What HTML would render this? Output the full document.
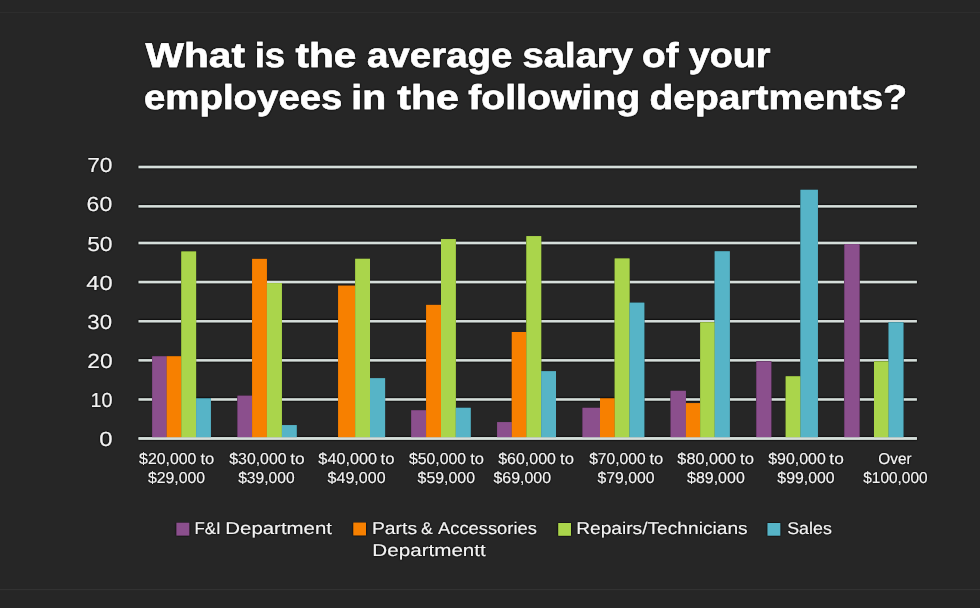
<!DOCTYPE html>
<html lang="en"><head><meta charset="utf-8"><title>Average salary by department</title>
<style>
html,body{margin:0;padding:0;background:#262626;}
body{width:980px;height:608px;overflow:hidden;}
svg{display:block;will-change:transform;}
text{text-rendering:geometricPrecision;font-family:"Liberation Sans",sans-serif;fill:#f2f2f2;}
.t{font-weight:bold;font-size:34.5px;fill:#ffffff;stroke:#ffffff;stroke-width:0.5px;}
.y{font-size:20.4px;}
.x{font-size:15.8px;}
.l{font-size:17px;}
</style></head><body>
<svg width="980" height="608" viewBox="0 0 980 608">
<defs><filter id="sh" x="-20%" y="-5%" width="140%" height="110%"><feGaussianBlur in="SourceAlpha" stdDeviation="0.75 0.01" result="b"/><feComponentTransfer in="b" result="d"><feFuncA type="linear" slope="1.7"/></feComponentTransfer><feMerge><feMergeNode in="d"/><feMergeNode in="SourceGraphic"/></feMerge></filter>
<filter id="th" x="-5%" y="-5%" width="110%" height="110%"><feGaussianBlur in="SourceAlpha" stdDeviation="0.8" result="b"/><feComponentTransfer in="b" result="d"><feFuncA type="linear" slope="1.3"/></feComponentTransfer><feMerge><feMergeNode in="d"/><feMergeNode in="SourceGraphic"/></feMerge></filter>
<filter id="gl" x="-1%" y="-200%" width="102%" height="500%"><feGaussianBlur in="SourceAlpha" stdDeviation="0.8" result="b"/><feComponentTransfer in="b" result="d"><feFuncA type="linear" slope="1.7"/></feComponentTransfer><feMerge><feMergeNode in="d"/><feMergeNode in="SourceGraphic"/></feMerge></filter></defs>
<rect x="0" y="0" width="980" height="608" fill="#262626"/>
<rect x="0" y="12" width="980" height="1" fill="#2d2d2d"/>
<rect x="0" y="589" width="980" height="1.1" fill="#323232"/>
<g filter="url(#gl)" fill="#d5deda">
<rect x="138.6" y="165.85" width="778.3" height="2.3"/>
<rect x="138.6" y="205.15" width="778.3" height="2.3"/>
<rect x="138.6" y="241.85" width="778.3" height="2.3"/>
<rect x="138.6" y="280.90" width="778.3" height="2.3"/>
<rect x="138.6" y="320.05" width="778.3" height="2.3"/>
<rect x="138.6" y="359.15" width="778.3" height="2.3"/>
<rect x="138.6" y="398.30" width="778.3" height="2.3"/>
<rect x="138.6" y="437.30" width="778.3" height="2.3"/>
</g>
<g filter="url(#sh)">
<rect x="152.2" y="356.30" width="14.5" height="81.10" fill="#8b508d"/>
<rect x="166.7" y="356.30" width="14.6" height="81.10" fill="#f78003"/>
<rect x="181.3" y="251.50" width="14.8" height="185.90" fill="#aad54b"/>
<rect x="196.1" y="398.40" width="14.8" height="39.00" fill="#57b4c7"/>
<rect x="237.5" y="395.70" width="14.6" height="41.70" fill="#8b508d"/>
<rect x="252.1" y="258.90" width="14.8" height="178.50" fill="#f78003"/>
<rect x="266.9" y="283.10" width="15.0" height="154.30" fill="#aad54b"/>
<rect x="281.9" y="425.10" width="14.8" height="12.30" fill="#57b4c7"/>
<rect x="338.1" y="285.70" width="17.1" height="151.70" fill="#f78003"/>
<rect x="355.2" y="258.80" width="14.8" height="178.60" fill="#aad54b"/>
<rect x="370.0" y="378.20" width="15.1" height="59.20" fill="#57b4c7"/>
<rect x="411.2" y="410.30" width="14.9" height="27.10" fill="#8b508d"/>
<rect x="426.1" y="304.90" width="14.9" height="132.50" fill="#f78003"/>
<rect x="441.0" y="239.10" width="14.8" height="198.30" fill="#aad54b"/>
<rect x="455.8" y="407.80" width="14.9" height="29.60" fill="#57b4c7"/>
<rect x="497.1" y="422.10" width="14.7" height="15.30" fill="#8b508d"/>
<rect x="511.8" y="332.00" width="14.6" height="105.40" fill="#f78003"/>
<rect x="526.4" y="236.10" width="14.8" height="201.30" fill="#aad54b"/>
<rect x="541.2" y="371.20" width="14.8" height="66.20" fill="#57b4c7"/>
<rect x="582.5" y="407.80" width="17.5" height="29.60" fill="#8b508d"/>
<rect x="600.0" y="398.40" width="14.7" height="39.00" fill="#f78003"/>
<rect x="614.7" y="258.50" width="14.8" height="178.90" fill="#aad54b"/>
<rect x="629.5" y="302.70" width="14.8" height="134.70" fill="#57b4c7"/>
<rect x="670.6" y="390.80" width="15.3" height="46.60" fill="#8b508d"/>
<rect x="685.9" y="403.10" width="14.3" height="34.30" fill="#f78003"/>
<rect x="700.2" y="322.30" width="14.5" height="115.10" fill="#aad54b"/>
<rect x="714.7" y="251.30" width="15.1" height="186.10" fill="#57b4c7"/>
<rect x="756.4" y="361.40" width="14.9" height="76.00" fill="#8b508d"/>
<rect x="785.7" y="376.30" width="14.8" height="61.10" fill="#aad54b"/>
<rect x="800.5" y="189.80" width="17.4" height="247.60" fill="#57b4c7"/>
<rect x="844.4" y="244.10" width="15.1" height="193.30" fill="#8b508d"/>
<rect x="874.0" y="361.40" width="14.6" height="76.00" fill="#aad54b"/>
<rect x="888.6" y="322.30" width="14.8" height="115.10" fill="#57b4c7"/>
</g>
<rect x="138.6" y="437.30" width="778.3" height="2.3" fill="#d5deda"/>
<g filter="url(#th)">
<rect x="176.5" y="522.8" width="12.7" height="12.7" fill="#8b508d"/>
<rect x="353.4" y="522.7" width="12.6" height="12.6" fill="#f78003"/>
<rect x="558.3" y="523.0" width="12.7" height="12.7" fill="#aad54b"/>
<rect x="767.6" y="523.0" width="12.6" height="12.6" fill="#57b4c7"/>
</g>
<g filter="url(#th)">
<text class="t" x="145.57" y="67.3" textLength="99.43" lengthAdjust="spacingAndGlyphs">What</text>
<text class="t" x="254.77" y="67.3" textLength="30.23" lengthAdjust="spacingAndGlyphs">is</text>
<text class="t" x="295.40" y="67.3" textLength="60.94" lengthAdjust="spacingAndGlyphs">the</text>
<text class="t" x="366.93" y="67.3" textLength="145.62" lengthAdjust="spacingAndGlyphs">average</text>
<text class="t" x="522.62" y="67.3" textLength="110.32" lengthAdjust="spacingAndGlyphs">salary</text>
<text class="t" x="642.00" y="67.3" textLength="36.55" lengthAdjust="spacingAndGlyphs">of</text>
<text class="t" x="688.69" y="67.3" textLength="81.86" lengthAdjust="spacingAndGlyphs">your</text>
<text class="t" x="144.00" y="108.6" textLength="198.46" lengthAdjust="spacingAndGlyphs">employees</text>
<text class="t" x="351.30" y="108.6" textLength="34.80" lengthAdjust="spacingAndGlyphs">in</text>
<text class="t" x="397.19" y="108.6" textLength="61.72" lengthAdjust="spacingAndGlyphs">the</text>
<text class="t" x="468.23" y="108.6" textLength="171.90" lengthAdjust="spacingAndGlyphs">following</text>
<text class="t" x="649.43" y="108.6" textLength="257.61" lengthAdjust="spacingAndGlyphs">departments?</text>
<text class="y" x="99.34" y="446.1" textLength="13.31" lengthAdjust="spacingAndGlyphs">0</text>
<text class="y" x="90.38" y="407.0" textLength="22.02" lengthAdjust="spacingAndGlyphs">10</text>
<text class="y" x="87.26" y="367.8" textLength="25.30" lengthAdjust="spacingAndGlyphs">20</text>
<text class="y" x="87.30" y="328.7" textLength="24.73" lengthAdjust="spacingAndGlyphs">30</text>
<text class="y" x="86.38" y="289.6" textLength="26.22" lengthAdjust="spacingAndGlyphs">40</text>
<text class="y" x="87.17" y="250.5" textLength="25.41" lengthAdjust="spacingAndGlyphs">50</text>
<text class="y" x="86.64" y="211.3" textLength="25.61" lengthAdjust="spacingAndGlyphs">60</text>
<text class="y" x="87.23" y="172.2" textLength="25.31" lengthAdjust="spacingAndGlyphs">70</text>
<text class="x" x="139.09" y="464.4" textLength="57.36" lengthAdjust="spacingAndGlyphs">$20,000</text>
<text class="x" x="200.42" y="464.4" textLength="13.82" lengthAdjust="spacingAndGlyphs">to</text>
<text class="x" x="229.23" y="464.4" textLength="57.39" lengthAdjust="spacingAndGlyphs">$30,000</text>
<text class="x" x="290.27" y="464.4" textLength="14.48" lengthAdjust="spacingAndGlyphs">to</text>
<text class="x" x="318.39" y="464.4" textLength="58.59" lengthAdjust="spacingAndGlyphs">$40,000</text>
<text class="x" x="380.55" y="464.4" textLength="13.87" lengthAdjust="spacingAndGlyphs">to</text>
<text class="x" x="409.00" y="464.4" textLength="57.07" lengthAdjust="spacingAndGlyphs">$50,000</text>
<text class="x" x="470.29" y="464.4" textLength="13.80" lengthAdjust="spacingAndGlyphs">to</text>
<text class="x" x="498.22" y="464.4" textLength="57.74" lengthAdjust="spacingAndGlyphs">$60,000</text>
<text class="x" x="560.14" y="464.4" textLength="13.89" lengthAdjust="spacingAndGlyphs">to</text>
<text class="x" x="589.18" y="464.4" textLength="56.52" lengthAdjust="spacingAndGlyphs">$70,000</text>
<text class="x" x="649.42" y="464.4" textLength="13.82" lengthAdjust="spacingAndGlyphs">to</text>
<text class="x" x="677.38" y="464.4" textLength="58.64" lengthAdjust="spacingAndGlyphs">$80,000</text>
<text class="x" x="740.14" y="464.4" textLength="13.89" lengthAdjust="spacingAndGlyphs">to</text>
<text class="x" x="768.17" y="464.4" textLength="57.63" lengthAdjust="spacingAndGlyphs">$90,000</text>
<text class="x" x="829.39" y="464.4" textLength="14.47" lengthAdjust="spacingAndGlyphs">to</text>
<text class="x" x="878.32" y="464.4" textLength="33.26" lengthAdjust="spacingAndGlyphs">Over</text>
<text class="x" x="147.96" y="483.1" textLength="57.16" lengthAdjust="spacingAndGlyphs">$29,000</text>
<text class="x" x="238.18" y="483.1" textLength="56.52" lengthAdjust="spacingAndGlyphs">$39,000</text>
<text class="x" x="327.61" y="483.1" textLength="57.99" lengthAdjust="spacingAndGlyphs">$49,000</text>
<text class="x" x="417.61" y="483.1" textLength="57.37" lengthAdjust="spacingAndGlyphs">$59,000</text>
<text class="x" x="493.45" y="483.1" textLength="57.57" lengthAdjust="spacingAndGlyphs">$69,000</text>
<text class="x" x="597.43" y="483.1" textLength="57.05" lengthAdjust="spacingAndGlyphs">$79,000</text>
<text class="x" x="687.00" y="483.1" textLength="57.80" lengthAdjust="spacingAndGlyphs">$89,000</text>
<text class="x" x="777.34" y="483.1" textLength="57.27" lengthAdjust="spacingAndGlyphs">$99,000</text>
<text class="x" x="863.25" y="483.1" textLength="64.33" lengthAdjust="spacingAndGlyphs">$100,000</text>
<text class="l" x="194.46" y="534.3" textLength="26.36" lengthAdjust="spacingAndGlyphs">F&amp;I</text>
<text class="l" x="225.25" y="534.3" textLength="106.80" lengthAdjust="spacingAndGlyphs">Department</text>
<text class="l" x="371.96" y="534.3" textLength="45.17" lengthAdjust="spacingAndGlyphs">Parts</text>
<text class="l" x="421.13" y="534.3" textLength="11.82" lengthAdjust="spacingAndGlyphs">&amp;</text>
<text class="l" x="438.03" y="534.3" textLength="98.79" lengthAdjust="spacingAndGlyphs">Accessories</text>
<text class="l" x="372.35" y="555.6" textLength="113.45" lengthAdjust="spacingAndGlyphs">Departmentt</text>
<text class="l" x="576.18" y="534.3" textLength="171.48" lengthAdjust="spacingAndGlyphs">Repairs/Technicians</text>
<text class="l" x="787.20" y="534.3" textLength="44.64" lengthAdjust="spacingAndGlyphs">Sales</text>
</g>
</svg>
</body></html>
